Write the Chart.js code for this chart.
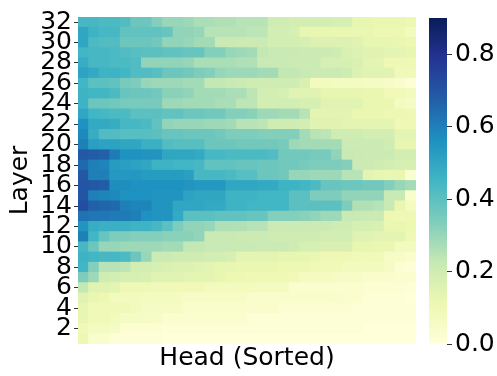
<!DOCTYPE html>
<html>
<head>
<meta charset="utf-8">
<script src="https://cdn.jsdelivr.net/npm/chart.js@4/dist/chart.umd.min.js"></script>
<style>
  body { margin: 0; background: #fff; }
  #wrap { position: relative; width: 497px; height: 376px; }
  #heat { position: absolute; left: 0; top: 0; }
  #bar { position: absolute; left: 420px; top: 0; }
</style>
</head>
<body>
<div id="wrap">
  <canvas id="heat" width="420" height="376"></canvas>
  <canvas id="bar" width="77" height="376"></canvas>
</div>
<script>
// values: one row per layer, heads sorted high -> low
const L32 = [0.44,0.44,0.43,0.43,0.42,0.37,0.37,0.33,0.30,0.30,0.29,0.27,0.27,0.26,0.26,0.25,0.25,0.25,0.20,0.20,0.19,0.19,0.19,0.19,0.18,0.18,0.13,0.13,0.12,0.12,0.12,0.11];
const L31 = [0.50,0.46,0.44,0.44,0.39,0.39,0.39,0.39,0.38,0.31,0.31,0.30,0.25,0.25,0.25,0.25,0.24,0.24,0.19,0.19,0.18,0.13,0.13,0.13,0.12,0.12,0.12,0.12,0.11,0.11,0.11,0.08];
const L30 = [0.50,0.43,0.42,0.42,0.37,0.37,0.37,0.36,0.31,0.31,0.30,0.28,0.28,0.22,0.22,0.21,0.21,0.21,0.19,0.19,0.19,0.18,0.16,0.16,0.16,0.16,0.15,0.13,0.13,0.13,0.12,0.11];
const L29 = [0.45,0.44,0.44,0.43,0.42,0.41,0.40,0.40,0.39,0.39,0.38,0.38,0.33,0.33,0.30,0.29,0.28,0.23,0.22,0.22,0.22,0.21,0.21,0.21,0.20,0.17,0.16,0.15,0.15,0.14,0.14,0.13];
const L28 = [0.48,0.44,0.44,0.43,0.43,0.42,0.31,0.31,0.31,0.31,0.30,0.27,0.27,0.27,0.27,0.26,0.26,0.22,0.22,0.22,0.21,0.21,0.21,0.18,0.18,0.18,0.17,0.14,0.14,0.10,0.10,0.10];
const L27 = [0.51,0.49,0.46,0.46,0.45,0.42,0.42,0.41,0.37,0.37,0.36,0.34,0.33,0.30,0.29,0.29,0.29,0.28,0.28,0.23,0.23,0.22,0.21,0.21,0.21,0.20,0.16,0.15,0.15,0.15,0.09,0.09];
const L26 = [0.45,0.40,0.40,0.39,0.35,0.34,0.30,0.29,0.29,0.29,0.28,0.28,0.23,0.23,0.22,0.21,0.20,0.20,0.20,0.20,0.20,0.17,0.08,0.08,0.07,0.07,0.07,0.06,0.06,0.05,0.04,0.01];
const L25 = [0.46,0.45,0.45,0.43,0.38,0.37,0.37,0.36,0.32,0.32,0.31,0.28,0.28,0.28,0.27,0.27,0.24,0.19,0.19,0.18,0.15,0.15,0.15,0.13,0.13,0.13,0.13,0.12,0.12,0.09,0.09,0.08];
const L24 = [0.46,0.37,0.37,0.36,0.35,0.35,0.35,0.35,0.29,0.29,0.28,0.28,0.28,0.27,0.27,0.24,0.24,0.19,0.19,0.19,0.19,0.18,0.18,0.15,0.15,0.15,0.15,0.12,0.12,0.12,0.07,0.06];
const L23 = [0.50,0.45,0.44,0.43,0.43,0.40,0.40,0.40,0.39,0.39,0.37,0.37,0.36,0.36,0.33,0.33,0.32,0.29,0.29,0.28,0.28,0.25,0.14,0.14,0.14,0.14,0.12,0.12,0.12,0.11,0.11,0.10];
const L22 = [0.56,0.49,0.49,0.48,0.44,0.44,0.43,0.39,0.31,0.30,0.30,0.30,0.29,0.29,0.28,0.25,0.25,0.24,0.20,0.20,0.20,0.19,0.15,0.15,0.15,0.14,0.14,0.14,0.14,0.14,0.10,0.10];
const L21 = [0.58,0.48,0.42,0.42,0.41,0.41,0.41,0.40,0.38,0.38,0.37,0.37,0.37,0.36,0.34,0.34,0.34,0.33,0.33,0.33,0.33,0.28,0.25,0.24,0.20,0.20,0.20,0.19,0.19,0.19,0.14,0.14];
const L20 = [0.60,0.52,0.51,0.51,0.50,0.50,0.47,0.47,0.42,0.41,0.41,0.41,0.37,0.37,0.37,0.36,0.36,0.36,0.36,0.35,0.29,0.28,0.28,0.28,0.28,0.21,0.21,0.21,0.21,0.20,0.13,0.13];
const L19 = [0.69,0.68,0.67,0.61,0.56,0.56,0.55,0.55,0.50,0.50,0.50,0.49,0.44,0.44,0.43,0.43,0.43,0.43,0.42,0.36,0.36,0.36,0.35,0.35,0.31,0.22,0.22,0.21,0.21,0.21,0.19,0.19];
const L18 = [0.65,0.60,0.59,0.53,0.52,0.51,0.50,0.46,0.46,0.45,0.45,0.44,0.39,0.39,0.39,0.38,0.38,0.37,0.37,0.36,0.36,0.35,0.34,0.34,0.34,0.33,0.21,0.21,0.20,0.19,0.18,0.18];
const L17 = [0.69,0.60,0.60,0.54,0.54,0.54,0.53,0.53,0.53,0.53,0.52,0.44,0.44,0.44,0.43,0.41,0.41,0.37,0.37,0.36,0.30,0.30,0.29,0.29,0.29,0.25,0.25,0.14,0.13,0.12,0.12,0.03];
const L16 = [0.70,0.69,0.68,0.57,0.57,0.56,0.56,0.56,0.56,0.56,0.55,0.54,0.54,0.54,0.50,0.50,0.50,0.49,0.49,0.46,0.46,0.45,0.43,0.38,0.38,0.37,0.37,0.36,0.36,0.33,0.30,0.28];
const L15 = [0.70,0.60,0.59,0.58,0.56,0.56,0.56,0.55,0.55,0.55,0.51,0.50,0.50,0.50,0.46,0.46,0.46,0.45,0.45,0.45,0.40,0.40,0.34,0.34,0.34,0.31,0.31,0.31,0.31,0.22,0.22,0.04];
const L14 = [0.72,0.67,0.66,0.65,0.60,0.59,0.59,0.55,0.55,0.50,0.50,0.50,0.49,0.49,0.46,0.46,0.45,0.45,0.45,0.45,0.40,0.40,0.40,0.40,0.40,0.34,0.26,0.26,0.25,0.22,0.12,0.07];
const L13 = [0.63,0.62,0.62,0.61,0.61,0.60,0.56,0.55,0.55,0.49,0.40,0.40,0.40,0.39,0.39,0.39,0.38,0.38,0.33,0.33,0.33,0.32,0.31,0.29,0.29,0.22,0.22,0.21,0.21,0.11,0.10,0.10];
const L12 = [0.55,0.48,0.47,0.47,0.47,0.46,0.46,0.44,0.40,0.34,0.31,0.31,0.30,0.26,0.26,0.26,0.25,0.25,0.21,0.21,0.21,0.21,0.21,0.21,0.20,0.20,0.18,0.18,0.17,0.12,0.12,0.11];
const L11 = [0.60,0.45,0.38,0.34,0.34,0.33,0.33,0.33,0.32,0.32,0.32,0.31,0.22,0.22,0.22,0.21,0.21,0.21,0.20,0.20,0.20,0.20,0.20,0.19,0.19,0.19,0.15,0.15,0.14,0.14,0.14,0.10];
const L10 = [0.44,0.37,0.30,0.30,0.29,0.29,0.29,0.29,0.28,0.28,0.23,0.23,0.22,0.22,0.22,0.22,0.22,0.21,0.21,0.21,0.20,0.18,0.18,0.17,0.17,0.17,0.13,0.13,0.12,0.12,0.08,0.08];
const L9  = [0.46,0.45,0.44,0.44,0.43,0.37,0.30,0.21,0.21,0.20,0.20,0.20,0.19,0.19,0.18,0.14,0.14,0.14,0.14,0.13,0.13,0.13,0.12,0.10,0.10,0.10,0.09,0.09,0.09,0.05,0.05,0.04];
const L8  = [0.45,0.33,0.25,0.25,0.24,0.19,0.19,0.18,0.17,0.16,0.16,0.15,0.14,0.13,0.13,0.12,0.12,0.12,0.12,0.11,0.11,0.11,0.09,0.09,0.09,0.08,0.08,0.08,0.08,0.06,0.02,0.01];
const L7  = [0.34,0.29,0.20,0.19,0.18,0.18,0.17,0.15,0.15,0.15,0.14,0.14,0.14,0.13,0.11,0.11,0.10,0.10,0.10,0.10,0.09,0.07,0.07,0.07,0.06,0.05,0.05,0.04,0.04,0.04,0.03,0.03];
const L6  = [0.23,0.15,0.15,0.14,0.10,0.10,0.10,0.09,0.09,0.09,0.09,0.09,0.08,0.08,0.08,0.08,0.08,0.07,0.07,0.07,0.03,0.03,0.03,0.03,0.03,0.03,0.03,0.02,0.02,0.02,0.02,0.01];
const L5  = [0.15,0.12,0.11,0.08,0.08,0.08,0.07,0.07,0.07,0.07,0.05,0.05,0.05,0.05,0.05,0.05,0.04,0.04,0.04,0.04,0.04,0.04,0.04,0.04,0.04,0.03,0.03,0.01,0.01,0.01,0.01,0.00];
const L4  = [0.13,0.09,0.09,0.09,0.09,0.08,0.06,0.06,0.06,0.06,0.04,0.04,0.04,0.04,0.04,0.04,0.04,0.04,0.04,0.02,0.02,0.02,0.02,0.02,0.02,0.02,0.01,0.01,0.01,0.01,0.01,0.01];
const L3  = [0.13,0.09,0.09,0.08,0.06,0.06,0.06,0.05,0.03,0.03,0.03,0.03,0.03,0.03,0.03,0.03,0.01,0.01,0.01,0.01,0.01,0.01,0.01,0.01,0.01,0.01,0.01,0.01,0.01,0.01,0.01,0.01];
const L2  = [0.09,0.07,0.07,0.06,0.02,0.02,0.02,0.02,0.01,0.01,0.01,0.01,0.01,0.01,0.01,0.01,0.01,0.01,0.01,0.01,0.01,0.01,0.01,0.01,0.01,0.01,0.01,0.00,0.00,0.00,0.00,0.00];
const L1  = [0.11,0.04,0.04,0.01,0.01,0.01,0.01,0.01,0.00,0.00,0.00,0.00,0.00,0.00,0.00,0.00,0.00,0.00,0.00,0.00,0.00,0.00,0.00,0.00,0.00,0.00,0.00,0.00,0.00,0.00,0.00,0.00];

const rows = [L1, L2, L3, L4, L5, L6, L7, L8, L9, L10, L11, L12, L13, L14, L15, L16,
              L17, L18, L19, L20, L21, L22, L23, L24, L25, L26, L27, L28, L29, L30, L31, L32];
const layers = rows.map((r, i) => i + 1);
const heads = L1.map((v, i) => 'H' + (i + 1));
const yTicks = [2, 4, 6, 8, 10, 12, 14, 16, 18, 20, 22, 24, 26, 28, 30, 32];
const cbTicks = [0, 0.2, 0.4, 0.6, 0.8];
const VMAX = 0.9;

// YlGnBu
const stops = ['#ffffd9', '#edf8b1', '#c7e9b4', '#7fcdbb', '#41b6c4', '#1d91c0', '#225ea8', '#253494', '#081d58'];
const rgb = stops.map(h => [1, 3, 5].map(i => parseInt(h.substr(i, 2), 16)));

function color(v) {
  let t = Math.max(0, Math.min(1, v / VMAX)) * (rgb.length - 1);
  let i = Math.min(Math.floor(t), rgb.length - 2);
  let f = t - i;
  let c = rgb[i].map((a, k) => Math.round(a + (rgb[i + 1][k] - a) * f));
  return 'rgb(' + c.join(',') + ')';
}

Chart.defaults.font.family = 'DejaVu Sans';
Chart.defaults.color = '#000';

new Chart(document.getElementById('heat'), {
  type: 'bar',
  data: {
    labels: heads,
    datasets: rows.map((vals, i) => ({
      label: 'Layer ' + layers[i],
      data: vals.map(() => 1),
      backgroundColor: vals.map(color),
      borderWidth: 0,
      barPercentage: 1,
      categoryPercentage: 1,
      inflateAmount: 0.4
    }))
  },
  options: {
    responsive: false,
    animation: false,
    layout: { padding: { top: 7, right: 4, left: 0, bottom: 0 } },
    plugins: { legend: { display: false }, tooltip: { enabled: false } },
    scales: {
      x: {
        stacked: true,
        grid: { display: false },
        border: { display: false },
        ticks: { display: false },
        title: { display: true, text: 'Head (Sorted)', font: { size: 25 }, padding: { top: 0, bottom: 3 } },
        afterFit: s => { s.height = 32; }
      },
      y: {
        stacked: true,
        min: 0,
        max: 32,
        afterBuildTicks: s => { s.ticks = yTicks.map(v => ({ value: v - 0.5 })); },
        ticks: { callback: v => String(Math.round(v + 0.5)), font: { size: 25 }, padding: 2, autoSkip: false },
        grid: { drawOnChartArea: false, drawTicks: true, tickLength: 4, color: '#333' },
        border: { display: false },
        title: { display: true, text: 'Layer', font: { size: 25 }, padding: { top: 5, bottom: 0 } },
        afterFit: s => { s.width = 78; }
      }
    }
  }
});

new Chart(document.getElementById('bar'), {
  type: 'bar',
  data: {
    labels: [''],
    datasets: [{
      data: [VMAX],
      backgroundColor: c => {
        const area = c.chart.chartArea;
        if (!area) return stops[0];
        const g = c.chart.ctx.createLinearGradient(0, area.bottom, 0, area.top);
        stops.forEach((s, i) => g.addColorStop(i / (stops.length - 1), s));
        return g;
      },
      borderWidth: 0,
      barPercentage: 1,
      categoryPercentage: 1
    }]
  },
  options: {
    responsive: false,
    animation: false,
    layout: { padding: { top: 7, right: 0, left: 9, bottom: 32 } },
    plugins: { legend: { display: false }, tooltip: { enabled: false } },
    scales: {
      x: { display: false },
      y: {
        position: 'right',
        min: 0,
        max: VMAX,
        afterBuildTicks: s => { s.ticks = cbTicks.map(v => ({ value: v })); },
        ticks: { callback: v => v.toFixed(1), font: { size: 25 }, padding: 3 },
        grid: { drawOnChartArea: false, drawTicks: true, tickLength: 5, color: '#333' },
        border: { display: false },
        afterFit: s => { s.width = 50; }
      }
    }
  }
});
</script>
</body>
</html>
